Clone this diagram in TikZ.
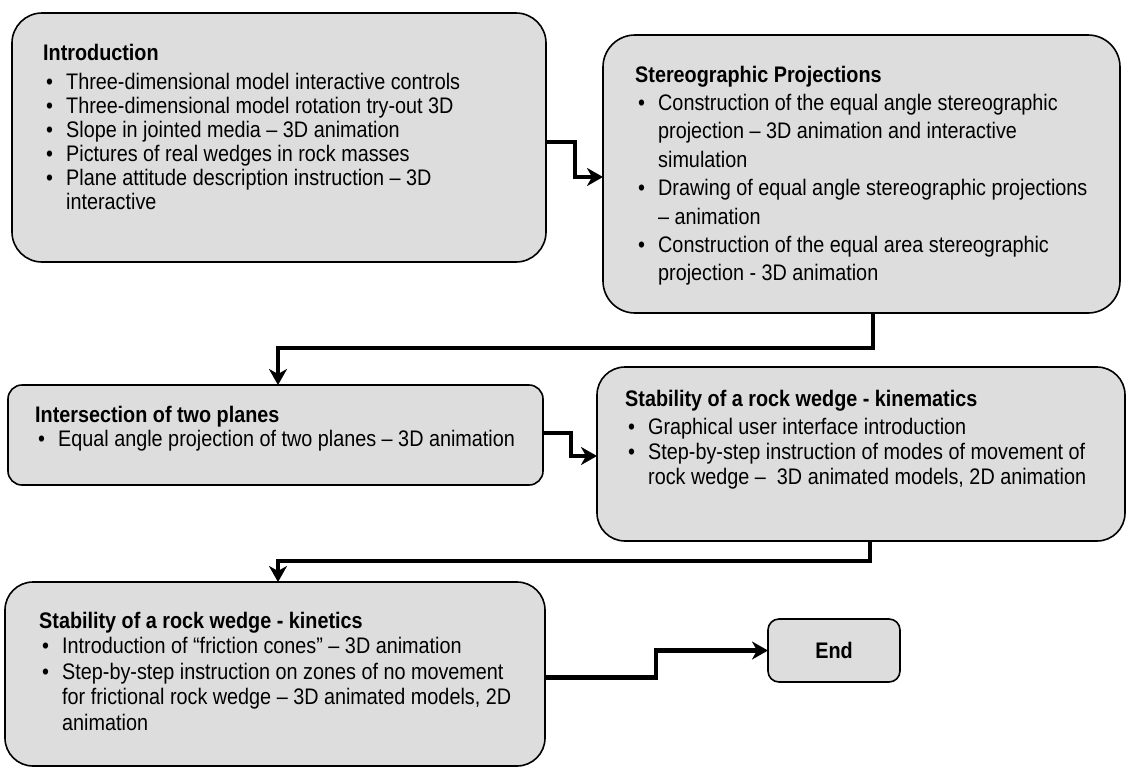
\documentclass[tikz,border=0pt]{standalone}
\usepackage{fontspec}
\setmainfont[FakeStretch=0.88]{Liberation Sans}
\usetikzlibrary{arrows.meta}
\definecolor{boxgray}{RGB}{221,221,221}
\newcommand\bx{\makebox[23pt][l]{\hspace{3pt}\textbullet}}
\newcommand\ix{\hspace{23pt}}
\begin{document}
\begin{tikzpicture}[x=1pt,y=-1pt,
  box/.style={draw=black, line width=1.6pt, fill=boxgray, rounded corners=#1,
    inner sep=0pt, outer sep=0pt, anchor=north west},
  txt/.style={anchor=base west, inner sep=0pt, align=left},
  arr/.style={line width=4.6pt, line join=miter, line cap=butt,
    -{Stealth[length=16pt,width=18pt,inset=5pt]}}]
\useasboundingbox (0,0) rectangle (1136,772);
% boxes
\node[box=30pt, minimum width=534pt, minimum height=249pt] (b1) at (12,13) {};
\node[box=32pt, minimum width=517pt, minimum height=278pt] (b2) at (603,35) {};
\node[box=14pt, minimum width=535pt, minimum height=100pt] (b3) at (8,385) {};
\node[box=28pt, minimum width=528pt, minimum height=174pt] (b4) at (597,367) {};
\node[box=28pt, minimum width=540pt, minimum height=184pt] (b5) at (5,582) {};
\node[box=11pt, minimum width=132pt, minimum height=63pt] (b6) at (768,619) {};
% texts
\node[txt] (t1) at (43,60) {\fontsize{22.5}{24}\selectfont
 \begin{tabular}[t]{@{}l@{}}
 \textbf{Introduction}\\[5pt]
 \bx Three-dimensional model interactive controls\\
 \bx Three-dimensional model rotation try-out 3D\\
 \bx Slope in jointed media -- 3D animation\\
 \bx Pictures of real wedges in rock masses\\
 \bx Plane attitude description instruction -- 3D\\
 \ix interactive
 \end{tabular}};
\node[txt] (t2) at (635,82) {\fontsize{22.5}{28.4}\selectfont
 \begin{tabular}[t]{@{}l@{}}
 \textbf{Stereographic Projections}\\
 \bx Construction of the equal angle stereographic\\
 \ix projection -- 3D animation and interactive\\
 \ix simulation\\
 \bx Drawing of equal angle stereographic projections\\
 \ix -- animation\\
 \bx Construction of the equal area stereographic\\
 \ix projection - 3D animation
 \end{tabular}};
\node[txt] (t3) at (35,422) {\fontsize{22.5}{24}\selectfont
 \begin{tabular}[t]{@{}l@{}}
 \textbf{Intersection of two planes}\\
 \bx Equal angle projection of two planes -- 3D animation
 \end{tabular}};
\node[txt] (t4) at (625,406) {\fontsize{22.5}{25}\selectfont
 \begin{tabular}[t]{@{}l@{}}
 \textbf{Stability of a rock wedge - kinematics}\\[3pt]
 \bx Graphical user interface introduction\\
 \bx Step-by-step instruction of modes of movement of\\
 \ix rock wedge --\ \ 3D animated models, 2D animation
 \end{tabular}};
\node[txt] (t5) at (39,628) {\fontsize{22.5}{25.5}\selectfont
 \begin{tabular}[t]{@{}l@{}}
 \textbf{Stability of a rock wedge - kinetics}\\
 \bx Introduction of “friction cones” -- 3D animation\\
 \bx Step-by-step instruction on zones of no movement\\
 \ix for frictional rock wedge -- 3D animated models, 2D\\
 \ix animation
 \end{tabular}};
\node[font=\fontsize{22.5}{24}\selectfont\bfseries] (t6) at (b6.center) {End};
% connectors
\draw[arr] ([yshift=-4.5pt]b1.east) -- ++(29,0) |- ([yshift=-3pt]b2.west);
\draw[arr] ([xshift=11.5pt]b2.south) -- ++(0,35) -| ([xshift=2.5pt]b3.north);
\draw[arr] ([yshift=2pt]b3.east) -- ++(28,0) |- ([yshift=-2pt]b4.west);
\draw[arr] ([xshift=9pt]b4.south) -- ++(0,20) -| ([xshift=3pt]b5.north);
\draw[arr] ([yshift=-3.5pt]b5.east) -- ++(111,0) |- (b6.west);
\end{tikzpicture}
\end{document}
